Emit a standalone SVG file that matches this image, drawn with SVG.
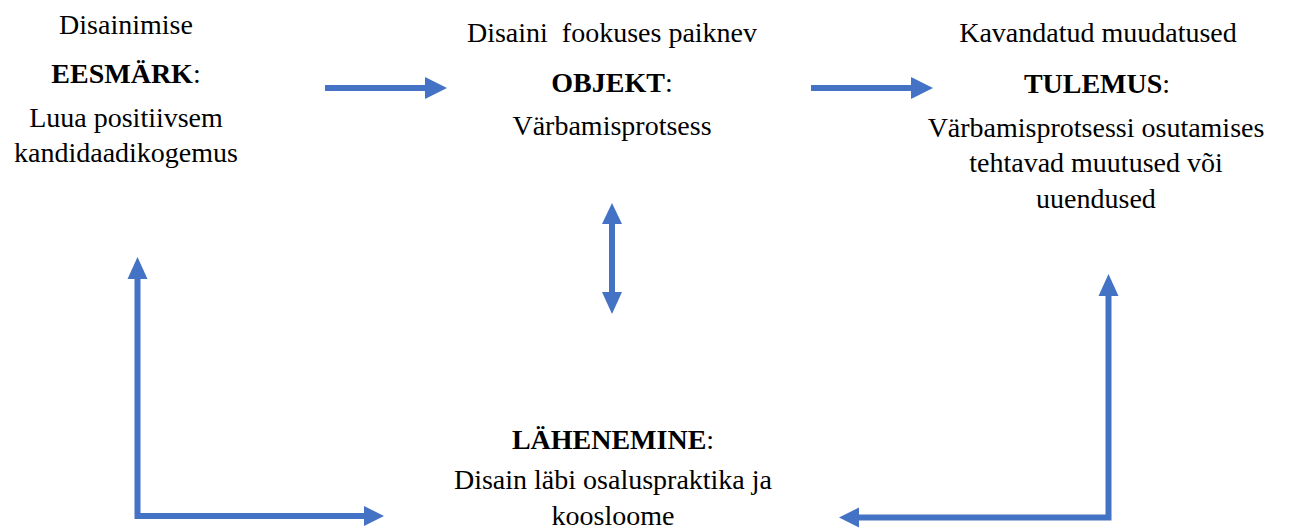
<svg xmlns="http://www.w3.org/2000/svg" width="1289" height="529" viewBox="0 0 1289 529">
<style>
text{font-family:'Liberation Serif',Tinos,'DejaVu Serif',serif;font-size:28px;fill:#000;text-anchor:middle}
.b{font-weight:bold}
.ln{stroke:#4472C4;stroke-width:6;fill:none}
.hd{fill:#4472C4}
</style>
<rect width="1289" height="529" fill="#fff"/>
<g id="connectors">
<line class="ln" x1="325" y1="88" x2="427" y2="88"/>
<polygon class="hd" points="425,77 447,88 425,99"/>
<line class="ln" x1="811" y1="88" x2="913" y2="88"/>
<polygon class="hd" points="911,77 933,88 911,99"/>
<line class="ln" x1="612" y1="222" x2="612" y2="294"/>
<polygon class="hd" points="602,224 612,203 622,224"/>
<polygon class="hd" points="602,292 612,314 622,292"/>
<polyline class="ln" points="137.5,277 137.5,516 366,516"/>
<polygon class="hd" points="127.5,279 137.5,257 147.5,279"/>
<polygon class="hd" points="364,506 384,516 364,526"/>
<polyline class="ln" points="1108.5,294 1108.5,517.5 857,517.5"/>
<polygon class="hd" points="1098.5,296 1108.5,274 1118.5,296"/>
<polygon class="hd" points="859,507.5 839,517.5 859,527.5"/>
</g>
<g id="goal">
<text x="126" y="34">Disainimise</text>
<text x="126" y="83"><tspan class="b">EESMÄRK</tspan>:</text>
<text x="126" y="127">Luua positiivsem</text>
<text x="126" y="162">kandidaadikogemus</text>
</g>
<g id="object">
<text x="612" y="42" xml:space="preserve">Disaini  fookuses paiknev</text>
<text x="612" y="92"><tspan class="b">OBJEKT</tspan>:</text>
<text x="612" y="135">Värbamisprotsess</text>
</g>
<g id="result">
<text x="1098" y="42">Kavandatud muudatused</text>
<text x="1097" y="93"><tspan class="b">TULEMUS</tspan>:</text>
<text x="1096" y="137">Värbamisprotsessi osutamises</text>
<text x="1096" y="172">tehtavad muutused või</text>
<text x="1096" y="208">uuendused</text>
</g>
<g id="approach">
<text x="613" y="449"><tspan class="b">LÄHENEMINE</tspan>:</text>
<text x="613" y="489">Disain läbi osaluspraktika ja</text>
<text x="613" y="525">koosloome</text>
</g>
</svg>
